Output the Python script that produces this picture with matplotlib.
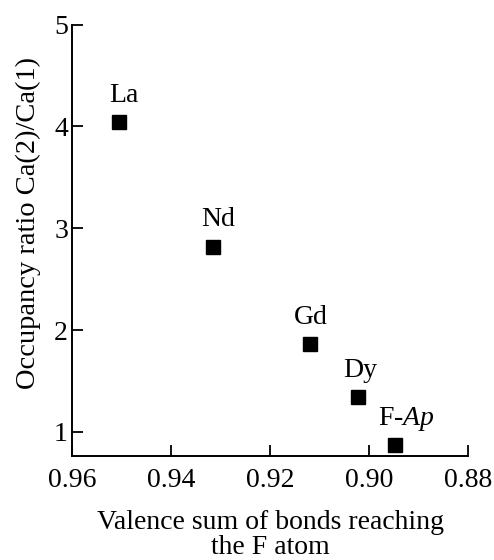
import matplotlib
matplotlib.use('Agg')
import matplotlib.pyplot as plt

# data
elements = ['La', 'Nd', 'Gd', 'Dy', 'F-$\\mathit{Ap}$']
valence_sum = [0.9506, 0.9316, 0.912, 0.9022, 0.8948]
occupancy = [4.04, 2.82, 1.86, 1.34, 0.87]
label_dx = [4, 4, 1, 1, 8]
x_ticks = [0.96, 0.94, 0.92, 0.90, 0.88]
y_ticks = [1, 2, 3, 4, 5]

plt.rcParams['font.family'] = ['Liberation Serif', 'DejaVu Serif']
plt.rcParams['mathtext.fontset'] = 'custom'
plt.rcParams['mathtext.it'] = 'Liberation Serif:italic'

fig = plt.figure(figsize=(4.94, 5.6), dpi=100)
ax = fig.add_axes([0.146, 0.186, 0.802, 0.770])

ax.plot(valence_sum, occupancy, linestyle='none', marker='s', ms=10.5, color='black')
for name, x, y, dx in zip(elements, valence_sum, occupancy, label_dx):
    ax.annotate(name, (x, y), xytext=(dx, 14.5), textcoords='offset points',
                ha='center', va='baseline', fontsize=20)

ax.set_xlim(0.96, 0.88)
ax.set_ylim(0.764, 5)
ax.set_xticks(x_ticks)
ax.set_xticklabels(['%.2f' % v for v in x_ticks])
ax.set_yticks(y_ticks)
ax.tick_params(direction='in', length=8, width=1.3, labelsize=20)
ax.tick_params(axis='x', pad=9)
ax.tick_params(axis='y', pad=3)
ax.spines['top'].set_visible(False)
ax.spines['right'].set_visible(False)
ax.spines['left'].set_linewidth(1.4)
ax.spines['bottom'].set_linewidth(1.4)

ax.set_xlabel('Valence sum of bonds reaching\nthe F atom', fontsize=20, linespacing=1.0, labelpad=12)
ax.set_ylabel('Occupancy ratio Ca(2)/Ca(1)', fontsize=20.5)
ax.yaxis.set_label_coords(-0.078, 0.54)

fig.savefig('out.png', dpi=100)
